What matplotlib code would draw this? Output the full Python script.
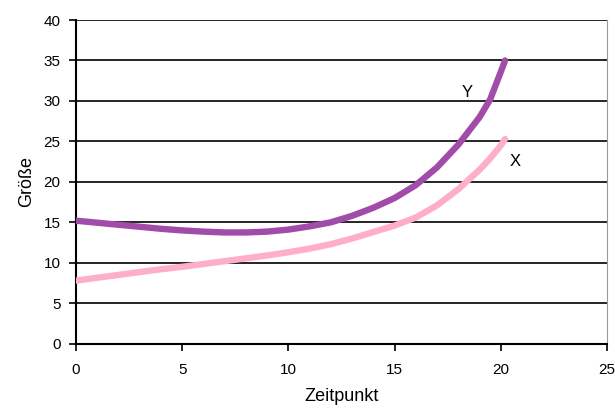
import matplotlib
matplotlib.use("Agg")
import matplotlib.pyplot as plt

plt.rcParams["font.family"] = ["Liberation Sans", "DejaVu Sans"]

# Zeitpunkt / Größe
zeit = [0, 1, 2, 3, 4, 5, 6, 7, 8, 9, 10, 11, 12, 13, 14, 15, 16, 17, 18, 19, 19.5, 20, 20.2]
groesse_y = [15.2, 14.95, 14.7, 14.45, 14.2, 14.0, 13.85, 13.75, 13.75, 13.85, 14.1, 14.5,
             15.0, 15.8, 16.8, 18.0, 19.6, 21.8, 24.6, 28.0, 30.2, 33.6, 35.0]
groesse_x = [7.8, 8.15, 8.5, 8.85, 9.2, 9.5, 9.85, 10.2, 10.55, 10.9, 11.3, 11.75,
             12.3, 13.0, 13.8, 14.6, 15.6, 17.1, 19.1, 21.5, 22.9, 24.5, 25.3]

x_ticks = [0, 5, 10, 15, 20, 25]
y_ticks = [0, 5, 10, 15, 20, 25, 30, 35, 40]

fig = plt.figure(figsize=(6.15, 4.09), dpi=100)
ax = fig.add_axes([0.1236, 0.1597, 0.8634, 0.7913])

for yv in y_ticks[1:]:
    ax.axhline(yv, color="black", linewidth=1.2, zorder=1)

ax.plot(zeit, groesse_y, color="#a04ca8", linewidth=4.6, solid_capstyle="round",
        solid_joinstyle="round", zorder=3)
ax.plot(zeit, groesse_x, color="#ffaec9", linewidth=4.6, solid_capstyle="round",
        solid_joinstyle="round", zorder=3)

ax.text(18.4, 31.0, "Y", fontsize=12, ha="center", va="center")
ax.text(20.7, 22.5, "X", fontsize=12, ha="center", va="center")

ax.set_xlim(0, 25)
ax.set_ylim(0, 40)
ax.set_xticks(x_ticks)
ax.set_yticks(y_ticks)
ax.tick_params(axis="both", labelsize=11, length=5, width=1.2, direction="out")
ax.tick_params(axis="x", pad=9)
ax.tick_params(axis="y", pad=6)

ax.spines["top"].set_visible(False)
ax.spines["right"].set_color("#999999")
ax.spines["left"].set_linewidth(1.5)
ax.spines["bottom"].set_linewidth(1.5)

ax.set_xlabel("Zeitpunkt", fontsize=13, labelpad=8)
ax.set_ylabel("Größe", fontsize=13, labelpad=6)

fig.savefig("out.png", dpi=100)
